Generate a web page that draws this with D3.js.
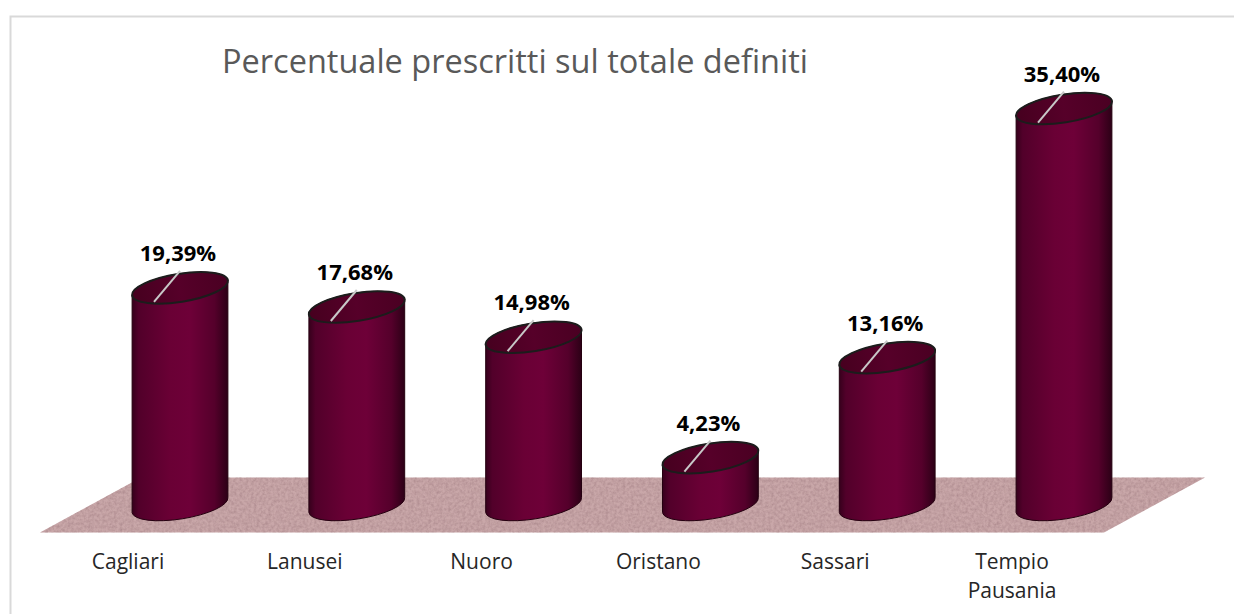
<!DOCTYPE html>
<html>
<head>
<meta charset="utf-8">
<script src="https://cdn.jsdelivr.net/npm/d3@7/dist/d3.min.js"></script>
<style>
  body { margin: 0; background: #fff; }
</style>
</head>
<body>
<div id="chart"></div>
<script>
// dati
var categories = ["Cagliari", "Lanusei", "Nuoro", "Oristano", "Sassari", "Tempio Pausania"];
var values = [19.39, 17.68, 14.98, 4.23, 13.16, 35.40];
var title = "Percentuale prescritti sul totale definiti";

var width = 1234;
var height = 614;

var it = d3.formatLocale({ decimal: ",", thousands: ".", grouping: [3], currency: ["", "€"] });
var fmt = function(v) { return it.format(".2f")(v) + "%"; };

var svg = d3.select("#chart")
    .append("svg")
    .attr("width", width)
    .attr("height", height);

var defs = svg.append("defs");

var gBody = defs.append("linearGradient").attr("id", "body").attr("x1", 0).attr("x2", 1).attr("y1", 0).attr("y2", 0);
[[0, "#36001c"], [0.07, "#52002a"], [0.4, "#6a0035"], [0.6, "#6e0038"], [0.86, "#55002b"], [1, "#2c0016"]]
    .forEach(function(s) { gBody.append("stop").attr("offset", s[0]).attr("stop-color", s[1]); });

var gTop = defs.append("linearGradient").attr("id", "top").attr("x1", 0).attr("x2", 1).attr("y1", 0).attr("y2", 0);
[[0, "#46001f"], [0.5, "#560029"], [1, "#4a0022"]]
    .forEach(function(s) { gTop.append("stop").attr("offset", s[0]).attr("stop-color", s[1]); });

// texture del pavimento
var grain = defs.append("filter").attr("id", "grain").attr("x", 0).attr("y", 0).attr("width", 1).attr("height", 1);
grain.append("feTurbulence").attr("type", "fractalNoise").attr("baseFrequency", "0.35").attr("numOctaves", 3).attr("seed", 4).attr("result", "noise");
grain.append("feColorMatrix").attr("in", "noise").attr("type", "matrix")
    .attr("values", "0 0 0 0 0.35  0 0 0 0 0.2  0 0 0 0 0.22  0 0 0 -1.1 0.75")
    .attr("result", "spots");
grain.append("feComposite").attr("in", "spots").attr("in2", "SourceGraphic").attr("operator", "in").attr("result", "clipped");
var merge = grain.append("feMerge");
merge.append("feMergeNode").attr("in", "SourceGraphic");
merge.append("feMergeNode").attr("in", "clipped");

// cornice
svg.append("rect")
    .attr("x", 10.5).attr("y", 16.5)
    .attr("width", 1240).attr("height", 620)
    .attr("fill", "none")
    .attr("stroke", "#d9d9d9")
    .attr("stroke-width", 2);

// scale
var x = d3.scalePoint()
    .domain(categories)
    .range([91.6, 1152.4])
    .padding(0.5);

var y = d3.scaleLinear()
    .domain([0, 40])
    .range([505, 57]);

var rx = 48.5, ry = 14, tilt = -9;
var ca = Math.cos(tilt * Math.PI / 180), sa = Math.sin(tilt * Math.PI / 180);
var depth = 101, halfDepth = 27.5;

// pavimento
var y0 = y(0);
svg.append("path")
    .attr("d", "M" + (x.range()[0] - 51.6) + "," + (y0 + halfDepth) +
               "L" + (x.range()[1] - 48.4) + "," + (y0 + halfDepth) +
               "L" + (x.range()[1] - 48.4 + depth) + "," + (y0 - halfDepth) +
               "L" + (x.range()[0] - 51.6 + depth) + "," + (y0 - halfDepth) + "Z")
    .attr("fill", "#c9a7a9")
    .attr("filter", "url(#grain)");

var data = categories.map(function(c, i) { return { cat: c, value: values[i] }; });

var bars = svg.selectAll(".bar")
    .data(data)
    .enter()
    .append("g")
    .attr("class", "bar");

// corpo del cilindro
bars.append("path")
    .attr("d", function(d) {
        var cx = x(d.cat), ty = y(d.value), by = y(0);
        var lx = cx - rx * ca, rxx = cx + rx * ca;
        var dy = -rx * sa; // lato sinistro più basso
        return "M" + lx + "," + (ty + dy) +
            "L" + lx + "," + (by + dy) +
            "A" + rx + "," + ry + " " + tilt + " 0 0 " + rxx + "," + (by - dy) +
            "L" + rxx + "," + (ty - dy) +
            "A" + rx + "," + ry + " " + tilt + " 0 0 " + lx + "," + (ty + dy) + "Z";
    })
    .attr("fill", "url(#body)")
    .attr("stroke", "#24000f")
    .attr("stroke-width", 1);

// faccia superiore
bars.append("ellipse")
    .attr("cx", 0).attr("cy", 0)
    .attr("rx", rx).attr("ry", ry)
    .attr("transform", function(d) { return "translate(" + x(d.cat) + "," + y(d.value) + ") rotate(" + tilt + ")"; })
    .attr("fill", "url(#top)")
    .attr("stroke", "#1c1c1c")
    .attr("stroke-width", 2);

// linee guida
bars.append("line")
    .attr("x1", function(d) { return x(d.cat) - 26; })
    .attr("y1", function(d) { return y(d.value) + 14; })
    .attr("x2", function(d) { return x(d.cat) + 0; })
    .attr("y2", function(d) { return y(d.value) - 17; })
    .attr("stroke", "#c8c8c8")
    .attr("stroke-width", 2);

// etichette valori
bars.append("text")
    .attr("x", function(d) { return x(d.cat) - 2; })
    .attr("y", function(d) { return y(d.value) - 27; })
    .attr("text-anchor", "middle")
    .style("font-family", "'Open Sans', sans-serif")
    .style("font-weight", "bold")
    .style("font-size", "22px")
    .style("fill", "#000")
    .text(function(d) { return fmt(d.value); });

// etichette categorie
var labels = svg.selectAll(".cat")
    .data(categories)
    .enter()
    .append("text")
    .attr("class", "cat")
    .attr("x", function(d) { return x(d) - 52; })
    .attr("y", 569)
    .attr("text-anchor", "middle")
    .style("font-family", "'Open Sans', sans-serif")
    .style("font-size", "21px")
    .style("fill", "#262626");

labels.each(function(d) {
    var words = d.split(" ");
    var t = d3.select(this);
    words.forEach(function(w, i) {
        t.append("tspan")
            .attr("x", x(d) - 52)
            .attr("dy", i === 0 ? 0 : 29)
            .text(w);
    });
});

// titolo
svg.append("text")
    .attr("x", 222)
    .attr("y", 73)
    .style("font-family", "'Open Sans', sans-serif")
    .style("font-size", "32.5px")
    .style("fill", "#595959")
    .text(title);
</script>
</body>
</html>
